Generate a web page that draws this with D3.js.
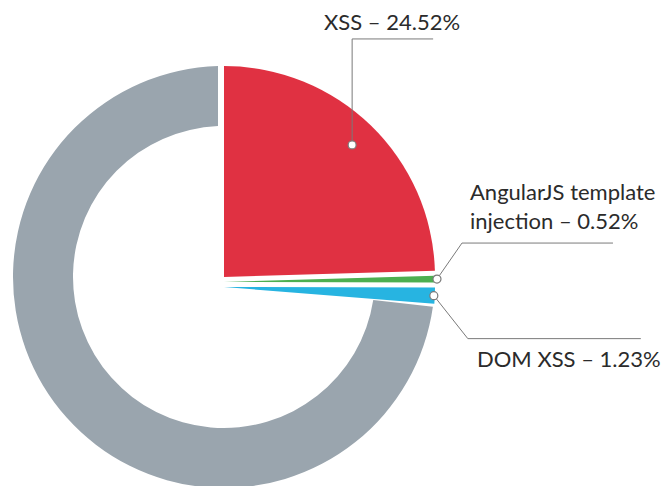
<!DOCTYPE html>
<html lang="en">
  <head>
    <meta charset="UTF-8">
    <title>XSS share</title>
    <style>
      body { margin: 0; background: #fff; }
      svg { display: block; }
      text { font-family: "Lato", "Open Sans", sans-serif; fill: #2b2b2b; }
    </style>
    <script src="https://d3js.org/d3.v7.min.js"></script>
  </head>
  <body>
    <script>
      var width = 668;
      var height = 486;

      var categories = ["XSS", "AngularJS template injection", "DOM XSS", "Other"];
      var shares = [24.52, 0.52, 1.23, 73.73];
      var colors = ["#e03142", "#4caf50", "#27b4e1", "#9aa5ae"];
      // label lines per labelled slice (last slice has no label)
      var labelLines = [
        ["XSS \u2013 24.52%"],
        ["AngularJS template", "injection \u2013 0.52%"],
        ["DOM XSS \u2013 1.23%"]
      ];

      var cx = 224, cy = 277;
      var outer = 211, inner = 151;
      // small shifts that pull the thin slices apart like in the original
      var shift = [[0, 0], [0, 5], [0, 10], [0, 0]];
      // grey ring: constant-width gap at both ends plus a bit more at its start
      var ringPad = 6;
      var ringGap = 1.9;

      var data = categories.map(function (c, i) {
        return { name: c, value: shares[i], color: colors[i] };
      });

      var pie = d3.pie().sort(null).value(function (d) { return d.value; });
      var arcs = pie(data);

      var svg = d3.select("body").append("svg")
        .attr("width", width)
        .attr("height", height);

      var g = svg.append("g").attr("transform", "translate(" + cx + "," + cy + ")");

      var isRing = function (d) { return d.index === 3; };
      var arc = d3.arc()
        .outerRadius(outer)
        .innerRadius(function (d) { return isRing(d) ? inner : 0; })
        .startAngle(function (d) {
          return isRing(d) ? d.startAngle + ringGap * Math.PI / 180 : d.startAngle;
        })
        .padRadius(outer)
        .padAngle(function (d) { return isRing(d) ? 2 * Math.asin(ringPad / outer) : 0; });

      g.selectAll("path.slice").data(arcs).enter().append("path")
        .attr("class", "slice")
        .attr("transform", function (d) { return "translate(" + shift[d.index] + ")"; })
        .attr("d", arc)
        .attr("fill", function (d) { return d.data.color; });

      // leader lines
      var dotRadius = [184, 213, 210];
      var mid = function (d) { return (d.startAngle + d.endAngle) / 2; };
      var dots = arcs.slice(0, 3).map(function (d, i) {
        var a = mid(d);
        return [shift[i][0] + dotRadius[i] * Math.sin(a), shift[i][1] - dotRadius[i] * Math.cos(a)];
      });

      // polyline points relative to the dot: elbow, end
      var legs = [
        [[0, -106], [81, -106]],
        [[25, -36], [176, -36]],
        [[34, 43], [207, 43]]
      ];
      var lineGen = d3.line();
      legs.forEach(function (leg, i) {
        var p = dots[i];
        var pts = [p].concat(leg.map(function (q) { return [p[0] + q[0], p[1] + q[1]]; }));
        g.append("path")
          .attr("d", lineGen(pts))
          .attr("fill", "none")
          .attr("stroke", "#7a7a7a")
          .attr("stroke-width", 1);
      });

      g.selectAll("circle.dot").data(dots).enter().append("circle")
        .attr("class", "dot")
        .attr("cx", function (d) { return d[0]; })
        .attr("cy", function (d) { return d[1]; })
        .attr("r", 4)
        .attr("fill", "#fff")
        .attr("stroke", "#7a7a7a")
        .attr("stroke-width", 1.2);

      // labels (absolute positions)
      var labelPos = [[324, 30], [470, 200], [477, 367]];
      labelLines.forEach(function (lines, i) {
        var t = svg.append("text")
          .attr("x", labelPos[i][0])
          .attr("y", labelPos[i][1])
          .style("font-size", "22px");
        lines.forEach(function (l, j) {
          t.append("tspan")
            .attr("x", labelPos[i][0])
            .attr("dy", j === 0 ? 0 : 29)
            .text(l);
        });
      });
    </script>
  </body>
</html>
